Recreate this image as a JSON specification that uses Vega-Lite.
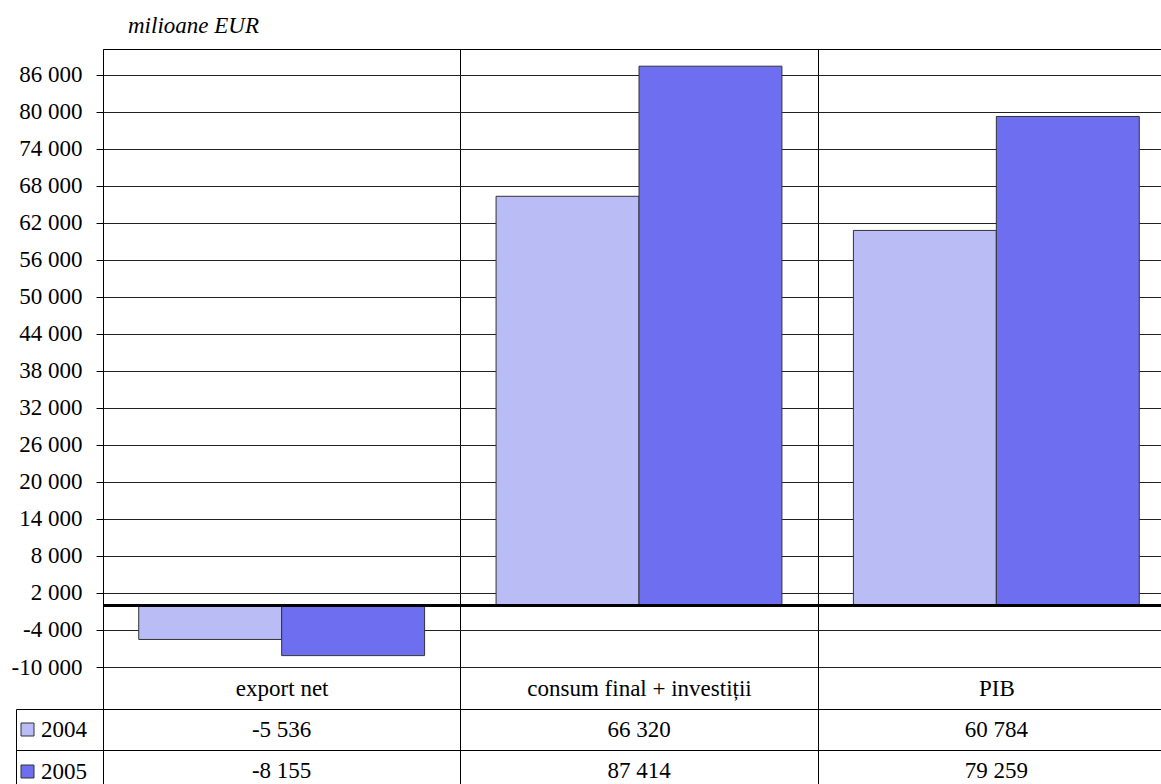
{
  "$schema": "https://vega.github.io/schema/vega-lite/v6.json",
  "padding": {"left": 10, "top": 14, "right": 0, "bottom": 0},
  "autosize": {"type": "pad"},
  "background": "#ffffff",
  "config": {
    "locale": {"number": {"decimal": ",", "thousands": " ", "grouping": [3], "currency": ["", ""], "minus": "-"}},
    "font": "Liberation Serif",
    "view": {"stroke": "#000000", "strokeWidth": 1}
  },
  "datasets": {
    "main": [
      {"category": "export net", "year": "2004", "value": -5536},
      {"category": "export net", "year": "2005", "value": -8155},
      {"category": "consum final + investiții", "year": "2004", "value": 66320},
      {"category": "consum final + investiții", "year": "2005", "value": 87414},
      {"category": "PIB", "year": "2004", "value": 60784},
      {"category": "PIB", "year": "2005", "value": 79259}
    ]
  },
  "bounds": "flush",
  "spacing": 42,
  "resolve": {"scale": {"x": "independent", "y": "independent"}},
  "vconcat": [
    {
      "width": 1072,
      "height": 618,
      "title": {"text": "milioane EUR", "anchor": "start", "frame": "group", "dx": 25, "offset": 11, "font": "Liberation Serif", "fontSize": 23, "fontStyle": "italic", "fontWeight": "normal", "color": "#000000"},
      "data": {"name": "main"},
      "layer": [
        {
          "mark": {"type": "bar", "stroke": "#333333", "strokeWidth": 1},
          "encoding": {
            "x": {"field": "category", "type": "nominal", "sort": ["export net", "consum final + investiții", "PIB"],
                  "scale": {"paddingInner": 0, "paddingOuter": 0},
                  "axis": {"title": null, "labels": false, "ticks": false, "domain": false, "grid": true, "tickBand": "extent", "gridColor": "#000000", "gridOpacity": 1, "gridWidth": 1}},
            "xOffset": {"field": "year", "type": "nominal", "sort": ["2004", "2005"], "scale": {"paddingInner": 0, "paddingOuter": 0.25}},
            "y": {"field": "value", "type": "quantitative",
                  "scale": {"domain": [-10000, 90200], "nice": false, "zero": false},
                  "axis": {"values": [-10000, -4000, 2000, 8000, 14000, 20000, 26000, 32000, 38000, 44000, 50000, 56000, 62000, 68000, 74000, 80000, 86000],
                           "tickCount": 30,
                           "format": ",d", "title": null, "grid": true, "gridColor": "#222222", "gridOpacity": 1, "gridWidth": 1,
                           "domain": false, "tickSize": 7, "tickColor": "#000000", "labelFont": "Liberation Serif", "labelFontSize": 23,
                           "labelColor": "#000000", "labelPadding": 14, "labelFlush": false, "labelOverlap": false}},
            "color": {"field": "year", "type": "nominal",
                      "scale": {"domain": ["2004", "2005"], "range": ["#b9bcf5", "#6d6ff0"]},
                      "legend": {"orient": "none", "legendX": -87, "legendY": 669, "title": null, "symbolType": "square", "symbolSize": 169,
                                 "symbolStrokeColor": "#333333", "symbolStrokeWidth": 1, "symbolOpacity": 1, "labelFont": "Liberation Serif",
                                 "labelFontSize": 23, "labelColor": "#000000", "labelOffset": 2, "rowPadding": 18}}
          }
        },
        {
          "mark": {"type": "rule", "color": "#000000", "strokeWidth": 2.5},
          "encoding": {"y": {"datum": 0}}
        }
      ]
    },
    {
      "width": 1072,
      "height": 82,
      "data": {"name": "main"},
      "mark": {"type": "text", "font": "Liberation Serif", "fontSize": 23, "color": "#000000"},
      "encoding": {
        "x": {"field": "category", "type": "nominal", "sort": ["export net", "consum final + investiții", "PIB"],
              "scale": {"paddingInner": 0, "paddingOuter": 0},
              "axis": {"orient": "top", "title": null, "tickBand": "extent", "tickSize": 42, "tickColor": "#000000", "grid": true,
                       "gridColor": "#000000", "gridOpacity": 1, "domain": false, "labelFont": "Liberation Serif", "labelFontSize": 23,
                       "labelBaseline": "middle", "labelPadding": -21, "labelColor": "#000000", "labelAngle": 0, "labelLimit": 500}},
        "y": {"field": "year", "type": "nominal", "sort": ["2004", "2005"],
              "scale": {"paddingInner": 0, "paddingOuter": 0},
              "axis": {"title": null, "labels": false, "offset": 87, "tickSize": -87, "tickBand": "extent", "tickColor": "#000000",
                       "domain": true, "domainColor": "#000000", "grid": true, "gridColor": "#000000", "gridOpacity": 1}},
        "text": {"field": "value", "type": "quantitative", "format": ",d"}
      }
    }
  ]
}
